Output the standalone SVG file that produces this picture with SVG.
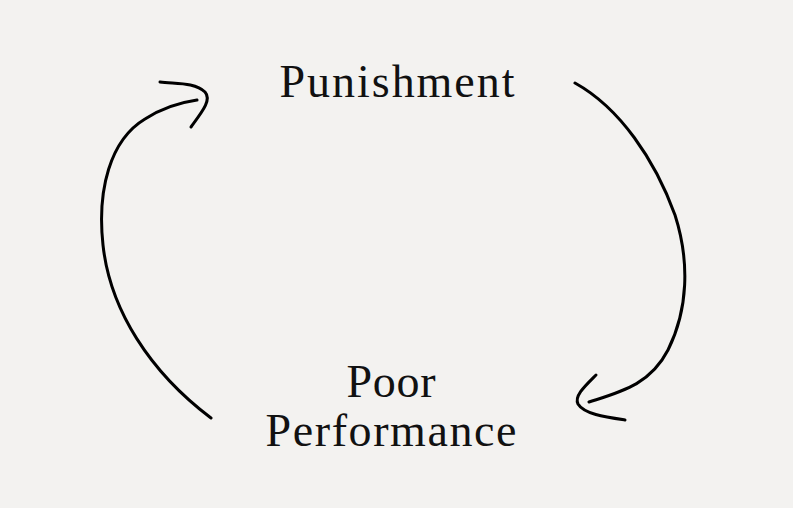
<svg xmlns="http://www.w3.org/2000/svg" width="793" height="508" viewBox="0 0 793 508">
<style>
.bg{fill:#f3f2f0}
.lbl{font-family:"Liberation Serif","Times New Roman",serif;font-size:46px;fill:#111;text-anchor:middle}
.arc{fill:none;stroke:#000;stroke-width:3;stroke-linecap:round;stroke-linejoin:round}
</style>
<rect class="bg" width="793" height="508"/>
<g id="node-punishment">
<text class="lbl" x="397" y="97" textLength="235" lengthAdjust="spacing">Punishment</text>
</g>
<g id="node-poor-performance">
<text class="lbl" x="391" y="397" textLength="89" lengthAdjust="spacing">Poor</text>
<text class="lbl" x="391" y="446" textLength="251" lengthAdjust="spacing">Performance</text>
</g>
<g id="connectors">
<path class="arc" d="M575,83 C620,108 655,160 675,215 C690,262 688,310 668,350 C650,385 620,392 589,402"/>
<path class="arc" d="M596,375 C585,386 574,396 578,404 C584,414 605,417 625,420"/>
<path class="arc" d="M211,418 C150,372 110,310 103,245 C97,190 110,140 145,119 C165,106 183,102 197,100"/>
<path class="arc" d="M160,82 C175,84 195,82 205,92 C212,100 202,112 191,127"/>
</g>
</svg>
